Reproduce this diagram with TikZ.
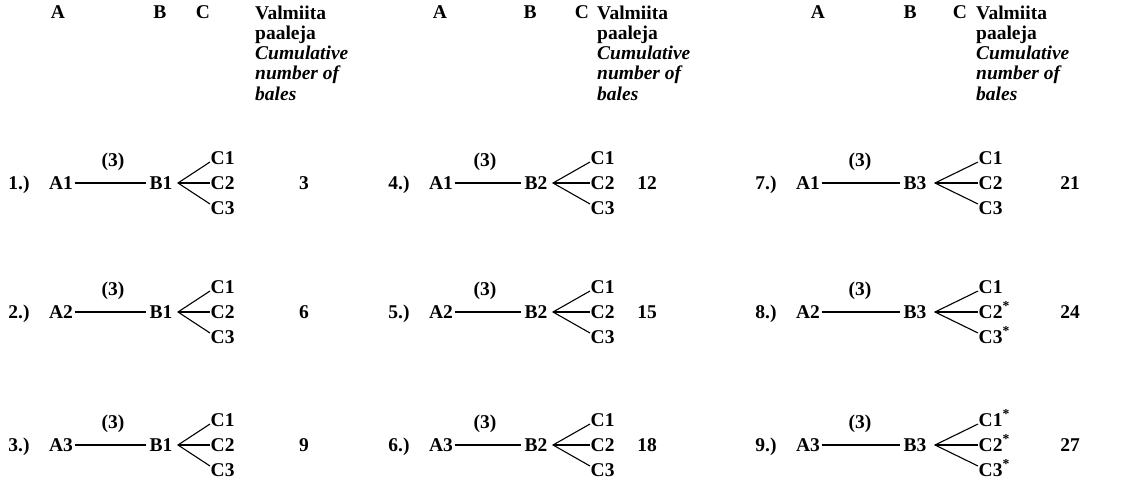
\documentclass[tikz,border=0pt]{standalone}
\usepackage{fontspec}
\setmainfont{Liberation Serif}
\begin{document}
\tikzset{
  txt/.style={font=\fontsize{19.5}{20.3}\selectfont\bfseries, inner sep=0.5pt},
  conn/.style={line width=1.1pt},
}
\newcommand\mkrow[9]{%
  % #1 id, #2 label, #3 A, #4 B, #5 C1, #6 C2, #7 C3, #8 number, #9 centre y
  \node[txt,anchor=base] (#1l) at (\colL,#9+6.5) {#2};
  \node[txt,anchor=base] (#1a) at (\colA,#9+6.5) {#3};
  \node[txt,anchor=base] (#1b) at (\colB,#9+6.5) {#4};
  \node[txt,anchor=base] (#1t) at (\colT,#9-23+6.5) {(3)};
  \node[txt,anchor=base west] (#1c1) at (\colC,#9-25+6.5) {#5};
  \node[txt,anchor=base west] (#1c2) at (\colC,#9+6.5) {#6};
  \node[txt,anchor=base west] (#1c3) at (\colC,#9+25+6.5) {#7};
  \node[txt,anchor=base] (#1n) at (\colN,#9+6.5) {#8};
  \coordinate (#1f) at (\colF,#9);
  \draw[conn] ([yshift=6.5pt,xshift=1pt]#1a.base east) -- ([yshift=6.5pt,xshift=-3pt]#1b.base west);
  \draw[conn] ([yshift=2.5pt]#1c1.base west) -- (#1f) -- ([yshift=10.5pt]#1c3.base west);
  \draw[conn] (#1f) -- ([yshift=6.5pt]#1c2.base west);
}
\newcommand\mkhead[5]{%
  % #1 id, #2 A x, #3 B x, #4 C x, #5 text x
  \node[txt,anchor=base] (#1A) at (#2,18.5) {A};
  \node[txt,anchor=base] (#1B) at (#3,18.5) {B};
  \node[txt,anchor=base] (#1C) at (#4,18.5) {C};
  \node[txt,anchor=north west,inner sep=0pt,align=left] (#1V) at (#5,5.3)
    {Valmiita\\paaleja\\\itshape Cumulative\\\itshape number of\\\itshape bales};
}
\begin{tikzpicture}[x=1pt,y=-1pt]
  \useasboundingbox (0,0) rectangle (1127,482);
  % block 1
  \mkhead{h1}{58}{160}{203}{255}
  \def\colL{19}\def\colA{61}\def\colB{161}\def\colF{178}\def\colC{210}\def\colT{113}\def\colN{304}
  \mkrow{r1}{1.)}{A1}{B1}{C1}{C2}{C3}{3}{183}
  \mkrow{r2}{2.)}{A2}{B1}{C1}{C2}{C3}{6}{312}
  \mkrow{r3}{3.)}{A3}{B1}{C1}{C2}{C3}{9}{445}
  % block 2
  \mkhead{h2}{440}{530}{582}{597}
  \def\colL{399}\def\colA{441}\def\colB{536}\def\colF{553}\def\colC{590}\def\colT{485}\def\colN{647}
  \mkrow{r4}{4.)}{A1}{B2}{C1}{C2}{C3}{12}{183}
  \mkrow{r5}{5.)}{A2}{B2}{C1}{C2}{C3}{15}{312}
  \mkrow{r6}{6.)}{A3}{B2}{C1}{C2}{C3}{18}{445}
  % block 3
  \mkhead{h3}{818}{910}{960}{976}
  \def\colL{766}\def\colA{808}\def\colB{915}\def\colF{935}\def\colC{978}\def\colT{860}\def\colN{1070}
  \mkrow{r7}{7.)}{A1}{B3}{C1}{C2}{C3}{21}{183}
  \mkrow{r8}{8.)}{A2}{B3}{C1}{C2\textsuperscript{*}}{C3\textsuperscript{*}}{24}{312}
  \mkrow{r9}{9.)}{A3}{B3}{C1\textsuperscript{*}}{C2\textsuperscript{*}}{C3\textsuperscript{*}}{27}{445}
\end{tikzpicture}
\end{document}
